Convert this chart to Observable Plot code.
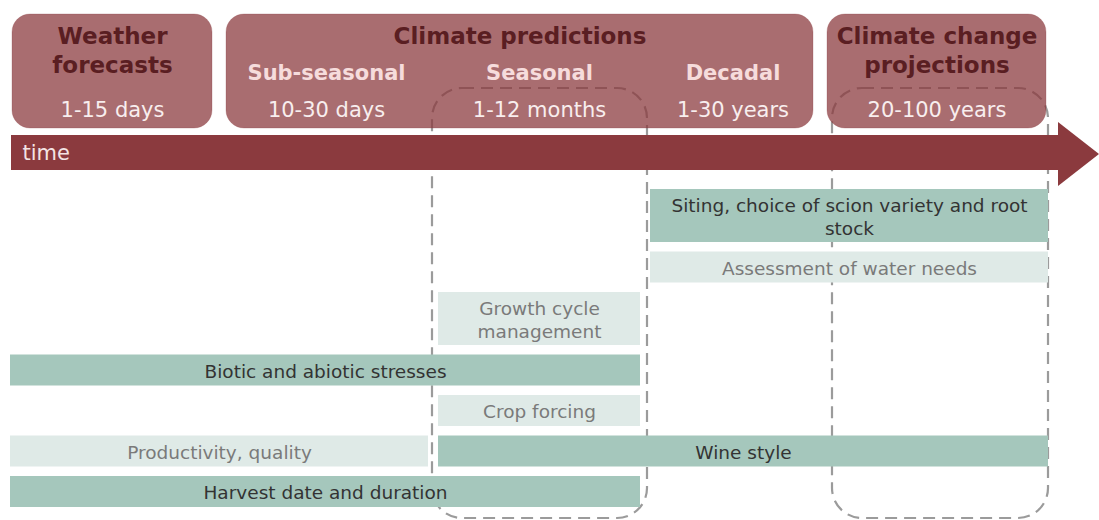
<!DOCTYPE html>
<html><head><meta charset="utf-8">
<script src="https://cdn.jsdelivr.net/npm/d3@7"></script>
<script src="https://cdn.jsdelivr.net/npm/@observablehq/plot@0.6"></script>
<style>html,body{margin:0;padding:0;background:#fff}</style>
</head><body><div id="chart"></div>
<script>
// ---- Data ----
// Time-scale columns (left to right along the time arrow)
const columns = ["Weather forecasts", "Sub-seasonal", "Seasonal", "Decadal", "Climate change projections"];
const columnRanges = ["1-15 days", "10-30 days", "1-12 months", "1-30 years", "20-100 years"];

// Header groups
const groupTitles = ["Weather\nforecasts", "Climate predictions", "Climate change\nprojections"];
const groupFrom = [0, 1, 4];
const groupTo = [0, 3, 4];

// Sub-headers inside "Climate predictions"
const subTitles = ["Sub-seasonal", "Seasonal", "Decadal"];
const subCols = [1, 2, 3];

// Columns highlighted by dashed frames
const highlightedCols = [2, 4];

// Activities (bars)
const activities = [
  "Siting, choice of scion variety and root\nstock",
  "Assessment of water needs",
  "Growth cycle\nmanagement",
  "Biotic and abiotic stresses",
  "Crop forcing",
  "Productivity, quality",
  "Wine style",
  "Harvest date and duration"
];
const activityRow = [0, 1, 2, 3, 4, 5, 5, 6];
const activityFrom = [3, 3, 2, 0, 2, 0, 2, 0];
const activityTo = [4, 4, 2, 2, 2, 1, 4, 2];
const activityLevel = ["primary", "secondary", "secondary", "primary", "secondary", "secondary", "primary", "primary"];

// ---- Layout / scales ----
const W = 1099, H = 520;
const xDomain = [0, 1, 2, 3, 4, 5];
const xRange = [5, 219, 433, 645, 820, 1053];
const xs = d3.scaleLinear(xDomain, xRange); // column index -> pixel (piecewise)
const midX = (a, b) => xs.invert((xs(a) + xs(b)) / 2);

const headerTop = 14, headerBottom = 128;
const arrowTop = 135, arrowBottom = 170, headTop = 122, headBottom = 186;
const rowsTop = 189, lineStep = 22, singleH = 31, rowGap = 9.5;

const rowCount = d3.max(activityRow) + 1;
const rowLines = d3.range(rowCount).map(r =>
  d3.max(activities.filter((_, i) => activityRow[i] === r), s => s.split("\n").length));
const rowH = rowLines.map(n => singleH + (n - 1) * lineStep);
const rowY = [];
rowLines.reduce((y, _, r) => { rowY[r] = y; return y + rowH[r] + rowGap; }, rowsTop);

const bars = activities.map((label, i) => {
  const r = activityRow[i];
  return {
    label, level: activityLevel[i],
    x1: activityFrom[i], x2: activityTo[i] + 1,
    y1: rowY[r], y2: rowY[r] + rowH[r],
    cx: midX(activityFrom[i], activityTo[i] + 1),
    cy: rowY[r] + rowH[r] / 2
  };
});

const groups = groupTitles.map((t, i) => ({
  title: t, x1: groupFrom[i], x2: groupTo[i] + 1,
  cx: midX(groupFrom[i], groupTo[i] + 1),
  cy: 35 + (t.split("\n").length - 1) * 14
}));
const subs = subTitles.map((t, i) => ({ t, cx: midX(subCols[i], subCols[i] + 1) }));
const rangeLabels = columnRanges.map((t, i) => {
  const g = groupFrom.findIndex((f, k) => i >= f && i <= groupTo[k]);
  const single = groupFrom[g] === groupTo[g];
  return { t, cx: single ? midX(groupFrom[g], groupTo[g] + 1) : midX(i, i + 1) };
});
const frames = highlightedCols.map(c => ({ x1: c, x2: c + 1 }));

const arrowEnd = xs.invert(1058), arrowTip = xs.invert(W);
const arrowHead = [
  { x: arrowEnd, y1: headTop, y2: headBottom },
  { x: arrowTip, y1: (headTop + headBottom) / 2, y2: (headTop + headBottom) / 2 }
];
const arrowBody = [{ x1: 0, x2: arrowEnd }];

const font = "DejaVu Sans, Verdana, sans-serif";
const wine = "#8b3a3e";

const chart = Plot.plot({
  width: W, height: H,
  margin: 0,
  x: { type: "linear", domain: [0, W], range: [0, W], transform: xs, axis: null },
  y: { domain: [0, H], range: [0, H], axis: null },
  style: { fontFamily: font, background: "#fff" },
  marks: [
    // dashed frames (behind everything)
    Plot.rect(frames.filter(d => d.x1 === 2), { x1: "x1", x2: "x2", y1: 88, y2: 518, rx: 30, fill: "none", stroke: "#9b9b9b", strokeWidth: 2.2, strokeDasharray: "12,7", insetLeft: -1, insetRight: -2 }),
    Plot.rect(frames.filter(d => d.x1 === 4), { x1: "x1", x2: "x2", y1: 88, y2: 518, rx: 30, fill: "none", stroke: "#9b9b9b", strokeWidth: 2.2, strokeDasharray: "12,7", insetLeft: 12, insetRight: 5 }),
    // header boxes
    Plot.rect(groups, { x1: "x1", x2: "x2", y1: headerTop, y2: headerBottom, rx: 18, fill: wine, fillOpacity: 0.74, stroke: wine, strokeOpacity: 0.25, insetLeft: 7, insetRight: 7 }),
    Plot.text(groups, { x: "cx", y: "cy", text: "title", fontSize: 23, fontWeight: "bold", fill: "#5a1e22", lineHeight: 1.22 }),
    Plot.text(subs, { x: "cx", y: 73, text: "t", fontSize: 21, fontWeight: "bold", fill: "#f6dcdc" }),
    Plot.text(rangeLabels, { x: "cx", y: 110, text: "t", fontSize: 21, fill: "#f8eeee" }),
    // time arrow
    Plot.rect(arrowBody, { x1: "x1", x2: "x2", y1: arrowTop, y2: arrowBottom, fill: wine, insetLeft: 6 }),
    Plot.area(arrowHead, { x1: "x", y1: "y1", y2: "y2", fill: wine }),
    Plot.text(["time"], { x: 0, y: (arrowTop + arrowBottom) / 2, text: d => d, dx: 17, textAnchor: "start", fontSize: 21, fill: "#f3e4e4" }),
    // activity bars
    Plot.rect(bars, { x1: "x1", x2: "x2", y1: "y1", y2: "y2", fill: d => d.level === "primary" ? "#a5c7bc" : "#dfeae7", insetLeft: 5, insetRight: 5 }),
    Plot.text(bars, { x: "cx", y: "cy", text: "label", fontSize: 18.5, lineHeight: 1.24, fill: d => d.level === "primary" ? "#333333" : "#7a7a7a" })
  ]
});
document.getElementById("chart").appendChild(chart);
</script>
</body></html>
